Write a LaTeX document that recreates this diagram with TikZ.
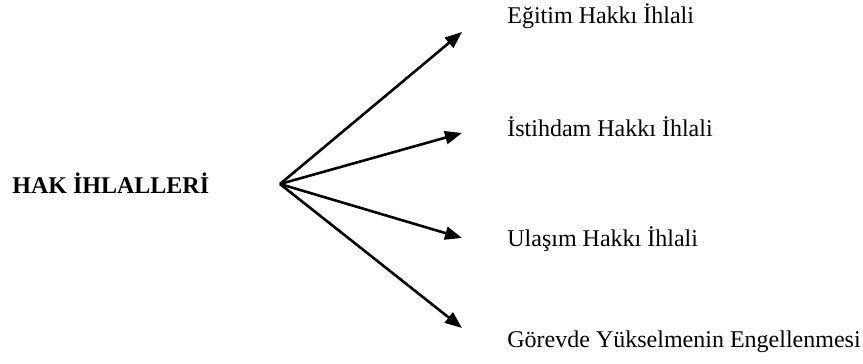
\documentclass[tikz,border=0pt]{standalone}
\usepackage{fontspec}
\setmainfont{Liberation Serif}
\usetikzlibrary{arrows.meta}
\begin{document}
\begin{tikzpicture}[x=0.5pt,y=-0.5pt,
    lbl/.style={anchor=base west,inner sep=0pt,font=\fontsize{12}{14}\selectfont},
    arr/.style={line width=1.3pt,-{Triangle[length=8.5pt,width=6.5pt]}}]
    \useasboundingbox (0,0) rectangle (863,364);
    \node[lbl,font=\fontsize{12}{14}\selectfont\bfseries] (hak) at (12,193) {HAK İHLALLERİ};
    \coordinate (hub) at (280,184);
    \coordinate (t1) at (462,32);
    \coordinate (t2) at (462,133);
    \coordinate (t3) at (462,238);
    \coordinate (t4) at (462,328);
    \node[lbl] (egitim) at (507,24) {Eğitim Hakkı İhlali};
    \node[lbl] (istihdam) at (507,136) {İstihdam Hakkı İhlali};
    \node[lbl] (ulasim) at (507,246) {Ulaşım Hakkı İhlali};
    \node[lbl] (gorev) at (507,347) {Görevde Yükselmenin Engellenmesi};
    \draw[arr] (hub) -- (t1);
    \draw[arr] (hub) -- (t2);
    \draw[arr] (hub) -- (t3);
    \draw[arr] (hub) -- (t4);
\end{tikzpicture}
\end{document}
